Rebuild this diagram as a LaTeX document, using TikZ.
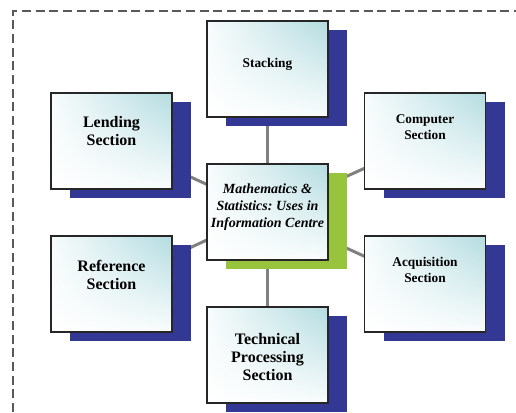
\documentclass[tikz,border=0pt]{standalone}
\usepackage{fontspec}
\setmainfont{Liberation Serif}
\usetikzlibrary{shadows,shadings,backgrounds}
\frenchspacing

\definecolor{boxteal}{HTML}{B3DCE0}
\definecolor{shadowblue}{HTML}{323894}
\definecolor{shadowgreen}{HTML}{97C43C}
\definecolor{linkgray}{HTML}{808080}

\tikzset{
  sectionbase/.style={draw=black!85, line width=0.9pt, minimum width=90.75pt,
    minimum height=72pt, inner sep=0pt,
    upper right=boxteal, upper left=boxteal!10!white,
    lower left=white, lower right=boxteal!8!white},
  section/.style={sectionbase,
    drop shadow={shadow xshift=14.5pt, shadow yshift=-7pt, fill=shadowblue, opacity=1}},
  centrebox/.style={sectionbase,
    drop shadow={shadow xshift=14.5pt, shadow yshift=-7pt, fill=shadowgreen, opacity=1}},
  bigname/.style={align=center, font=\bfseries\fontsize{12}{13.5}\selectfont},
  smallname/.style={align=center, font=\bfseries\fontsize{10}{12}\selectfont},
  centrename/.style={align=center, font=\bfseries\itshape\fontsize{10.5}{12.75}\selectfont},
  link/.style={draw=linkgray, line width=2.25pt}
}

\begin{document}
\begin{tikzpicture}[x=0.75pt,y=-0.75pt]
  \useasboundingbox (0,0) rectangle (516,412);
  \draw[black!65, line width=1.3pt, dash pattern=on 6.75pt off 3.5pt] (13,412) -- (13,11) -- (516,11); % frame

  % boxes
  \node[centrebox] (main)  at (267.5,212) {};
  \node[section]   (stack) at (267.5,69)  {};
  \node[section]   (lend)  at (111.5,141) {};
  \node[section]   (comp)  at (425,141)   {};
  \node[section]   (refer) at (111.5,284) {};
  \node[section]   (acq)   at (425,284)   {};
  \node[section]   (tech)  at (267.5,355) {};

  % names
  \node[centrename] (maintxt)  at ([yshift=-32.75pt]main.north)  {Mathematics \&\\Statistics: Uses in\\Information Centre};
  \node[smallname]  (stacktxt) at ([yshift=-32.75pt]stack.north) {Stacking};
  \node[bigname]    (lendtxt)  at ([yshift=-29.25pt]lend.north)  {Lending\\Section};
  \node[smallname]  (comptxt)  at ([yshift=-26.25pt]comp.north)  {Computer\\Section};
  \node[bigname]    (refertxt) at ([yshift=-30pt]refer.north)    {Reference\\Section};
  \node[smallname]  (acqtxt)   at ([yshift=-26.25pt]acq.north)   {Acquisition\\Section};
  \node[bigname]    (techtxt)  at ([yshift=-38pt]tech.north)     {Technical\\Processing\\Section};

  % spokes
  \begin{scope}[on background layer]
    \foreach \b in {stack,lend,comp,refer,acq,tech}
      \draw[link] (main.center) -- (\b.center);
  \end{scope}
\end{tikzpicture}
\end{document}
